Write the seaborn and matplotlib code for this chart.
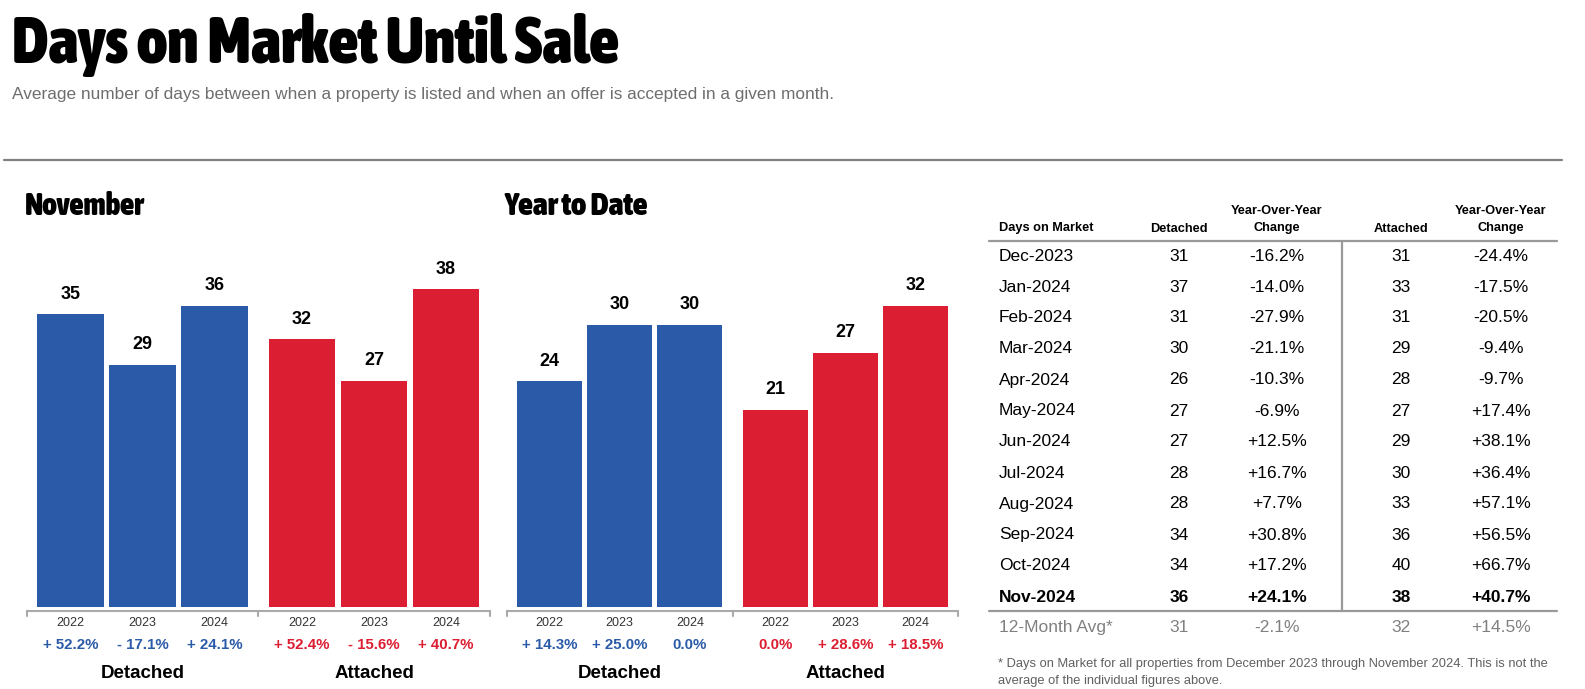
import numpy as np
import pandas as pd
import matplotlib
matplotlib.use("Agg")
import matplotlib.pyplot as plt
import matplotlib.transforms as mtrans
from matplotlib import font_manager as fm
import seaborn as sns

# ---- data ----
years = ["2022", "2023", "2024"]
types = ["Detached", "Attached"]

nov_detached = [35, 29, 36]
nov_attached = [32, 27, 38]
nov_detached_chg = [52.2, -17.1, 24.1]
nov_attached_chg = [52.4, -15.6, 40.7]

ytd_detached = [24, 30, 30]
ytd_attached = [21, 27, 32]
ytd_detached_chg = [14.3, 25.0, 0.0]
ytd_attached_chg = [0.0, 28.6, 18.5]

months = ["Dec-2023", "Jan-2024", "Feb-2024", "Mar-2024", "Apr-2024", "May-2024",
          "Jun-2024", "Jul-2024", "Aug-2024", "Sep-2024", "Oct-2024", "Nov-2024"]
tbl_detached = [31, 37, 31, 30, 26, 27, 27, 28, 28, 34, 34, 36]
tbl_detached_chg = [-16.2, -14.0, -27.9, -21.1, -10.3, -6.9, 12.5, 16.7, 7.7, 30.8, 17.2, 24.1]
tbl_attached = [31, 33, 31, 29, 28, 27, 29, 30, 33, 36, 40, 38]
tbl_attached_chg = [-24.4, -17.5, -20.5, -9.4, -9.7, 17.4, 38.1, 36.4, 57.1, 56.5, 66.7, 40.7]
avg_label = "12-Month Avg*"
avg_detached, avg_detached_chg = 31, -2.1
avg_attached, avg_attached_chg = 32, 14.5

BLUE = "#2B5BA8"
RED = "#DC1E32"
W, H = 1585, 689
BASE = 607  # bar baseline, px from top

sns.set_style("white")
plt.rcParams["font.family"] = ["Liberation Sans", "DejaVu Sans"]
plt.rcParams["text.color"] = "black"


def pick_heading_font():
    # a bold condensed sans if one is installed, else plain bold sans
    best, best_w = None, 0
    for f in fm.fontManager.ttflist:
        n = f.name.lower()
        cond = ("narrow" in n or "condensed" in n or
                str(f.stretch) in ("condensed", "semi-condensed", "extra-condensed", "ultra-condensed"))
        if not cond or f.style != "normal" or "mono" in n or "serif" in n:
            continue
        w = f.weight if isinstance(f.weight, int) else fm.weight_dict.get(f.weight, 400)
        if w >= 700 and w > best_w:
            best, best_w = f.fname, w
    if best:
        return fm.FontProperties(fname=best)
    return fm.FontProperties(family="Liberation Sans", weight="bold")


HEAD = pick_heading_font()

fig = plt.figure(figsize=(W / 100, H / 100), dpi=100)
renderer = fig.canvas.get_renderer()


def fx(x):
    return x / W


def fy(y):
    return 1 - y / H


def fit_text(x, y, s, target_w, **kw):
    t = fig.text(fx(x), fy(y), s, fontproperties=HEAD, fontsize=20, va="baseline", **kw)
    w = t.get_window_extent(renderer).width
    t.set_fontsize(20 * target_w / w)
    return t


def pct_text(v):
    if v > 0:
        return "+ {:.1f}%".format(v)
    if v < 0:
        return "- {:.1f}%".format(abs(v))
    return "0.0%"


def bar_panel(x0, x1, px_per_unit, ymax, det, att, det_chg, att_chg):
    h = px_per_unit * ymax
    ax = fig.add_axes([fx(x0), fy(BASE), (x1 - x0) / W, h / H])
    df = pd.DataFrame({"type": np.repeat(types, 3), "year": years * 2, "days": det + att})
    sns.barplot(data=df, x="type", y="days", hue="year", order=types, hue_order=years,
                width=0.933, gap=0.07, saturation=1, errorbar=None, legend=False, ax=ax)
    chg = [det_chg, att_chg]
    cols = [BLUE, RED]
    pitch = 0.933 / 3
    for cont in ax.containers:
        for bar in cont:
            xc = bar.get_x() + bar.get_width() / 2
            ti = int(round(xc))
            yi = int(round((xc - ti) / pitch)) + 1
            bar.set_facecolor(cols[ti])
            bar.set_edgecolor("none")
            ax.annotate(years[yi], (xc, 0), xytext=(0, -18.5 * 0.72), textcoords="offset points",
                        ha="center", va="baseline", fontsize=9, color="#333333")
            ax.annotate(pct_text(chg[ti][yi]), (xc, 0), xytext=(0, -42.4 * 0.72),
                        textcoords="offset points", ha="center", va="baseline",
                        fontsize=10.8, fontweight="bold", color=cols[ti])
        ax.bar_label(cont, fmt="%.0f", padding=8.5, fontsize=13, fontweight="bold")
    for ti, t in enumerate(types):
        ax.annotate(t, (ti, 0), xytext=(0, -70.7 * 0.72), textcoords="offset points",
                    ha="center", va="baseline", fontsize=13.5, fontweight="bold")
    # bracket under the bars
    tr = mtrans.blended_transform_factory(ax.transData, ax.transAxes)
    yl, yt = -3.5 / h, -8.5 / h
    ax.plot([-0.5, -0.5, 1.5, 1.5], [yt, yl, yl, yt], color="#AAAAAA", lw=1.5,
            transform=tr, clip_on=False, solid_joinstyle="miter")
    ax.plot([0.5, 0.5], [yl, yt], color="#AAAAAA", lw=1.5, transform=tr, clip_on=False)
    ax.set_xlim(-0.5, 1.5)
    ax.set_ylim(0, ymax)
    ax.set(xticks=[], yticks=[], xlabel="", ylabel="")
    sns.despine(ax=ax, left=True, bottom=True)
    return ax


bar_panel(26.75, 489.75, 8.36, 40, nov_detached, nov_attached, nov_detached_chg, nov_attached_chg)
bar_panel(507, 958, 9.4, 35, ytd_detached, ytd_attached, ytd_detached_chg, ytd_attached_chg)

# ---- headings ----
fit_text(12, 63, "Days on Market Until Sale", 607)
fig.text(fx(12), fy(94), "Average number of days between when a property is listed and when an offer "
         "is accepted in a given month.", fontsize=12.4, color="#6E6E6E", va="center")
fig.add_artist(plt.Line2D([fx(4), fx(1562)], [fy(160), fy(160)], color="#808080", lw=1.6))
fit_text(25, 215, "November", 119)
fit_text(505, 215, "Year to Date", 143)

# ---- table ----
cx = [1179, 1277, 1401, 1501]
hdr = dict(fontsize=9.2, fontweight="bold", va="center")
fig.text(fx(999), fy(228.5), "Days on Market", ha="left", **hdr)
fig.text(fx(cx[0]), fy(228.5), "Detached", ha="center", **hdr)
fig.text(fx(cx[1]), fy(211), "Year-Over-Year", ha="center", **hdr)
fig.text(fx(cx[1]), fy(228.5), "Change", ha="center", **hdr)
fig.text(fx(cx[2]), fy(228.5), "Attached", ha="center", **hdr)
fig.text(fx(cx[3]), fy(211), "Year-Over-Year", ha="center", **hdr)
fig.text(fx(cx[3]), fy(228.5), "Change", ha="center", **hdr)

fig.add_artist(plt.Line2D([fx(989), fx(1557)], [fy(240.5), fy(240.5)], color="#999999", lw=1.6))
fig.add_artist(plt.Line2D([fx(989), fx(1557)], [fy(610.5), fy(610.5)], color="#999999", lw=1.6))
fig.add_artist(plt.Line2D([fx(1341.5), fx(1341.5)], [fy(240.5), fy(610.5)], color="#999999", lw=1.6))

row0, pitch = 256, 31.0
for i, m in enumerate(months):
    y = fy(row0 + i * pitch)
    wt = "bold" if i == len(months) - 1 else "normal"
    kw = dict(fontsize=12.5, fontweight=wt, va="center")
    fig.text(fx(999), y, m, ha="left", **kw)
    fig.text(fx(cx[0]), y, str(tbl_detached[i]), ha="center", **kw)
    fig.text(fx(cx[1]), y, "{:+.1f}%".format(tbl_detached_chg[i]), ha="center", **kw)
    fig.text(fx(cx[2]), y, str(tbl_attached[i]), ha="center", **kw)
    fig.text(fx(cx[3]), y, "{:+.1f}%".format(tbl_attached_chg[i]), ha="center", **kw)

y = fy(627.5)
kw = dict(fontsize=12.5, color="#808080", va="center")
fig.text(fx(999), y, avg_label, ha="left", **kw)
fig.text(fx(cx[0]), y, str(avg_detached), ha="center", **kw)
fig.text(fx(cx[1]), y, "{:+.1f}%".format(avg_detached_chg), ha="center", **kw)
fig.text(fx(cx[2]), y, str(avg_attached), ha="center", **kw)
fig.text(fx(cx[3]), y, "{:+.1f}%".format(avg_attached_chg), ha="center", **kw)

fig.text(fx(998), fy(664), "* Days on Market for all properties from December 2023 through November 2024. "
         "This is not the", fontsize=9.25, color="#606060", va="center")
fig.text(fx(998), fy(681), "average of the individual figures above.", fontsize=9.25, color="#606060",
         va="center")

fig.savefig("out.png", dpi=100)
